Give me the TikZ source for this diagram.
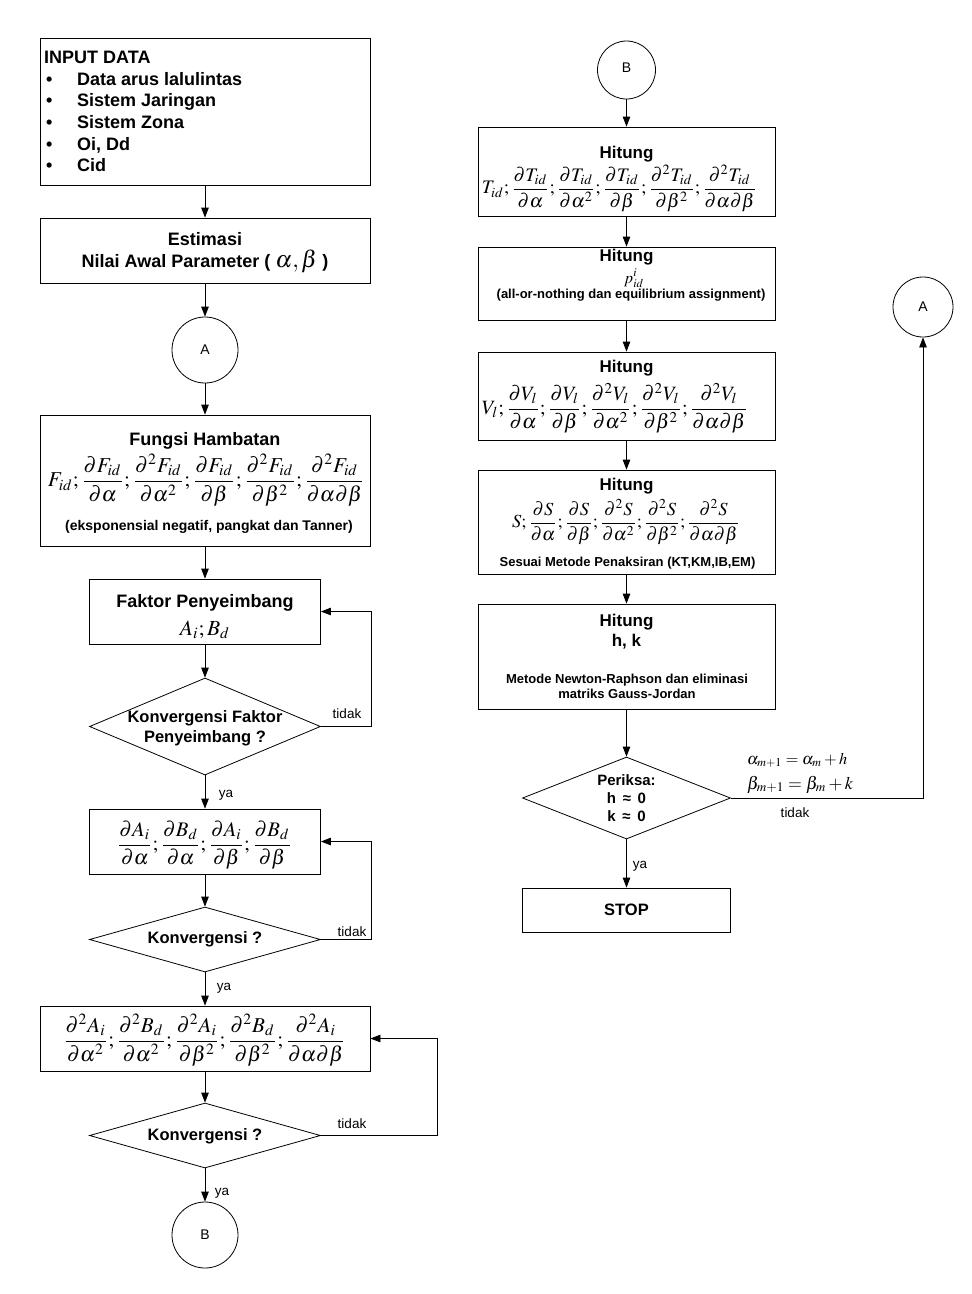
\documentclass[tikz,border=0pt]{standalone}
\usepackage{mathptmx}
\usepackage{graphicx}
\usepackage[no-math]{fontspec}
\setmainfont{Liberation Sans}
\usetikzlibrary{arrows.meta,shapes.geometric}
\newcommand\fml[2]{\resizebox{#1pt}{!}{$\displaystyle #2$}}
\newcommand\fs[1]{\fontsize{#1}{#1}\selectfont}
\begin{document}
\begin{tikzpicture}[x=1pt,y=-1pt,
  box/.style={draw,rectangle,inner sep=0pt,line width=0.8pt},
  dia/.style={draw,diamond,inner sep=0pt,line width=0.8pt},
  circ/.style={draw,circle,inner sep=0pt,line width=0.8pt},
  arr/.style={-{Triangle[length=10pt,width=7.5pt]},line width=0.8pt},
  txt/.style={inner sep=0pt,anchor=base},
  ttl/.style={txt,font=\bfseries\fs{18}},
  hit/.style={txt,font=\bfseries\fs{17}},
  sub/.style={txt,font=\bfseries\fs{13}},
  lbl/.style={txt,font=\fs{13.5}},
  ctext/.style={inner sep=0pt,font=\fs{14}},
  mth/.style={inner sep=0pt,anchor=center}]
\fill[white] (0,0) rectangle (972,1294);
\useasboundingbox (0,0) rectangle (972,1294);

% ---------- left column ----------
\node[box,minimum width=330pt,minimum height=147pt] (input) at (205,111.5) {};
\node[ttl,anchor=base west] (inT) at (44,63) {INPUT DATA};
\node[ttl,anchor=base west] (b1) at (46,85) {\textbullet};
\node[ttl,anchor=base west] (i1) at (77,85) {Data arus lalulintas};
\node[ttl,anchor=base west] (b2) at (46,106.7) {\textbullet};
\node[ttl,anchor=base west] (i2) at (77,106.7) {Sistem Jaringan};
\node[ttl,anchor=base west] (b3) at (46,128.4) {\textbullet};
\node[ttl,anchor=base west] (i3) at (77,128.4) {Sistem Zona};
\node[ttl,anchor=base west] (b4) at (46,150.1) {\textbullet};
\node[ttl,anchor=base west] (i4) at (77,150.1) {Oi, Dd};
\node[ttl,anchor=base west] (b5) at (46,171.8) {\textbullet};
\node[ttl,anchor=base west] (i5) at (77,171.8) {Cid};

\node[box,minimum width=330pt,minimum height=65pt] (est) at (205,250.5) {};
\node[ttl] (estT) at (205,245) {Estimasi};
\node[ttl] (estL) at (205,267) {Nilai Awal Parameter ( \fml{42}{\alpha,\beta} )};

\node[circ,minimum size=66pt] (cA) at (205,350) {};
\node[ctext] (cAt) at (205,350) {A};

\node[box,minimum width=330pt,minimum height=131pt] (fung) at (205,480.5) {};
\node[ttl] (fungT) at (205,445) {Fungsi Hambatan};
\node[mth] (fungF) at (206.5,480) {\fml{317}{F_{id};\frac{\partial F_{id}}{\partial\alpha};\frac{\partial^2F_{id}}{\partial\alpha^2};\frac{\partial F_{id}}{\partial\beta};\frac{\partial^2F_{id}}{\partial\beta^2};\frac{\partial^2F_{id}}{\partial\alpha\partial\beta}}};
\node[txt,font=\bfseries\fs{14}] (fungS) at (209,530) {(eksponensial negatif, pangkat dan Tanner)};

\node[box,minimum width=231pt,minimum height=65pt] (fak) at (205,611.5) {};
\node[ttl] (fakT) at (205,607) {Faktor Penyeimbang};
\node[mth] (fakF) at (205,630) {\fml{50}{A_i;B_d}};

\node[dia,minimum width=231pt,minimum height=97pt] (d1) at (205,726.5) {};
\node[txt,font=\bfseries\fs{16.5}] (d1a) at (205,722) {Konvergensi Faktor};
\node[txt,font=\bfseries\fs{16.5}] (d1b) at (205,742) {Penyeimbang ?};

\node[box,minimum width=231pt,minimum height=65pt] (dA) at (205,841.5) {};
\node[mth] (dAF) at (204.5,845) {\fml{175}{\frac{\partial A_i}{\partial\alpha};\frac{\partial B_d}{\partial\alpha};\frac{\partial A_i}{\partial\beta};\frac{\partial B_d}{\partial\beta}}};

\node[dia,minimum width=231pt,minimum height=65pt] (d2) at (205,939.5) {};
\node[txt,font=\bfseries\fs{16.5}] (d2t) at (205,943) {Konvergensi ?};

\node[box,minimum width=330pt,minimum height=65pt] (ddA) at (205,1038.5) {};
\node[mth] (ddAF) at (204.5,1040) {\fml{283}{\frac{\partial^2A_i}{\partial\alpha^2};\frac{\partial^2B_d}{\partial\alpha^2};\frac{\partial^2A_i}{\partial\beta^2};\frac{\partial^2B_d}{\partial\beta^2};\frac{\partial^2A_i}{\partial\alpha\partial\beta}}};

\node[dia,minimum width=231pt,minimum height=65pt] (d3) at (205,1135.5) {};
\node[txt,font=\bfseries\fs{16.5}] (d3t) at (205,1140) {Konvergensi ?};

\node[circ,minimum size=66pt] (cB) at (205,1235) {};
\node[ctext] (cBt) at (205,1235) {B};

% left connectors
\draw[arr] (input.south) -- (est.north);
\draw[arr] (est.south) -- (cA.north);
\draw[arr] (cA.south) -- (fung.north);
\draw[arr] (fung.south) -- (fak.north);
\draw[arr] (fak.south) -- (d1.north);
\draw[arr] (d1.south) -- (dA.north);
\draw[arr] (d1.east) -- ++(50,0) |- (fak.east);
\draw[arr] (dA.south) -- (d2.north);
\draw[arr] (d2.south) -- (ddA.north);
\draw[arr] (d2.east) -- ++(50,0) |- (dA.east);
\draw[arr] (ddA.south) -- (d3.north);
\draw[arr] (d3.south) -- (cB.north);
\draw[arr] (d3.east) -- ++(116,0) |- (ddA.east);

\node[lbl] (t1) at (347,718) {tidak};
\node[lbl] (y1) at (226,797) {ya};
\node[lbl] (t2) at (352,936) {tidak};
\node[lbl] (y2) at (224,990) {ya};
\node[lbl] (t3) at (352,1128) {tidak};
\node[lbl] (y3) at (222,1195) {ya};

% ---------- right column ----------
\node[circ,minimum size=58pt] (cB2) at (626.5,70) {};
\node[ctext] (cB2t) at (626.5,68) {B};

\node[box,minimum width=297pt,minimum height=89pt] (T) at (626.5,171.5) {};
\node[hit] (TT) at (626.5,158) {Hitung};
\node[mth] (TF) at (619.5,188) {\fml{275}{T_{id};\frac{\partial T_{id}}{\partial\alpha};\frac{\partial T_{id}}{\partial\alpha^2};\frac{\partial T_{id}}{\partial\beta};\frac{\partial^2T_{id}}{\partial\beta^2};\frac{\partial^2T_{id}}{\partial\alpha\partial\beta}}};

\node[box,minimum width=297pt,minimum height=73pt] (P) at (626.5,283.5) {};
\node[hit] (PT) at (626.5,261) {Hitung};
\node[mth] (PF) at (634,278) {\fml{20}{p^{i}_{id}}};
\node[sub] (PS) at (631,298) {(all-or-nothing dan equilibrium assignment)};

\node[box,minimum width=297pt,minimum height=88pt] (V) at (626.5,396) {};
\node[hit] (VT) at (626.5,372) {Hitung};
\node[mth] (VF) at (615,408) {\fml{266}{V_l;\frac{\partial V_l}{\partial\alpha};\frac{\partial V_l}{\partial\beta};\frac{\partial^2V_l}{\partial\alpha^2};\frac{\partial^2V_l}{\partial\beta^2};\frac{\partial^2V_l}{\partial\alpha\partial\beta}}};

\node[box,minimum width=297pt,minimum height=104pt] (S) at (626.5,522) {};
\node[hit] (ST) at (626.5,490) {Hitung};
\node[mth] (SF) at (626,522) {\fml{228}{S;\frac{\partial S}{\partial\alpha};\frac{\partial S}{\partial\beta};\frac{\partial^2S}{\partial\alpha^2};\frac{\partial^2S}{\partial\beta^2};\frac{\partial^2S}{\partial\alpha\partial\beta}}};
\node[sub] (SS) at (627.5,566) {Sesuai Metode Penaksiran (KT,KM,IB,EM)};

\node[box,minimum width=297pt,minimum height=105pt] (HK) at (626.5,656.5) {};
\node[hit] (HKT) at (626.5,626) {Hitung};
\node[hit] (HKa) at (626.5,646) {h, k};
\node[sub] (HKb) at (627,683) {Metode Newton-Raphson dan eliminasi};
\node[sub] (HKc) at (627,698) {matriks Gauss-Jordan};

\node[dia,minimum width=208pt,minimum height=82pt] (per) at (626.5,798) {};
\node[txt,font=\bfseries\fs{15}] (perA) at (626.5,785) {Periksa:};
\node[txt,font=\bfseries\fs{15}] (perB) at (626.5,803) {h \,≈\, 0};
\node[txt,font=\bfseries\fs{15}] (perC) at (626.5,821) {k \,≈\, 0};

\node[box,minimum width=208pt,minimum height=44pt] (stop) at (626.5,910) {};
\node[txt,font=\bfseries\fs{16.5}] (stopT) at (626.5,915.5) {STOP};

\node[circ,minimum size=60pt] (cA2) at (923,307) {};
\node[ctext] (cA2t) at (923,307) {A};

\node[txt,anchor=base west] (upd1) at (747,764) {\fml{100}{\alpha_{m+1}=\alpha_m+h}};
\node[txt,anchor=base west] (upd2) at (747,789) {\fml{106}{\beta_{m+1}=\beta_m+k}};
\node[lbl] (t4) at (795,817) {tidak};
\node[lbl] (y4) at (640,868) {ya};

% right connectors
\draw[arr] (cB2.south) -- (T.north);
\draw[arr] (T.south) -- (P.north);
\draw[arr] (P.south) -- (V.north);
\draw[arr] (V.south) -- (S.north);
\draw[arr] (S.south) -- (HK.north);
\draw[arr] (HK.south) -- (per.north);
\draw[arr] (per.south) -- (stop.north);
\draw[arr] (per.east) -| (cA2.south);
\end{tikzpicture}
\end{document}
